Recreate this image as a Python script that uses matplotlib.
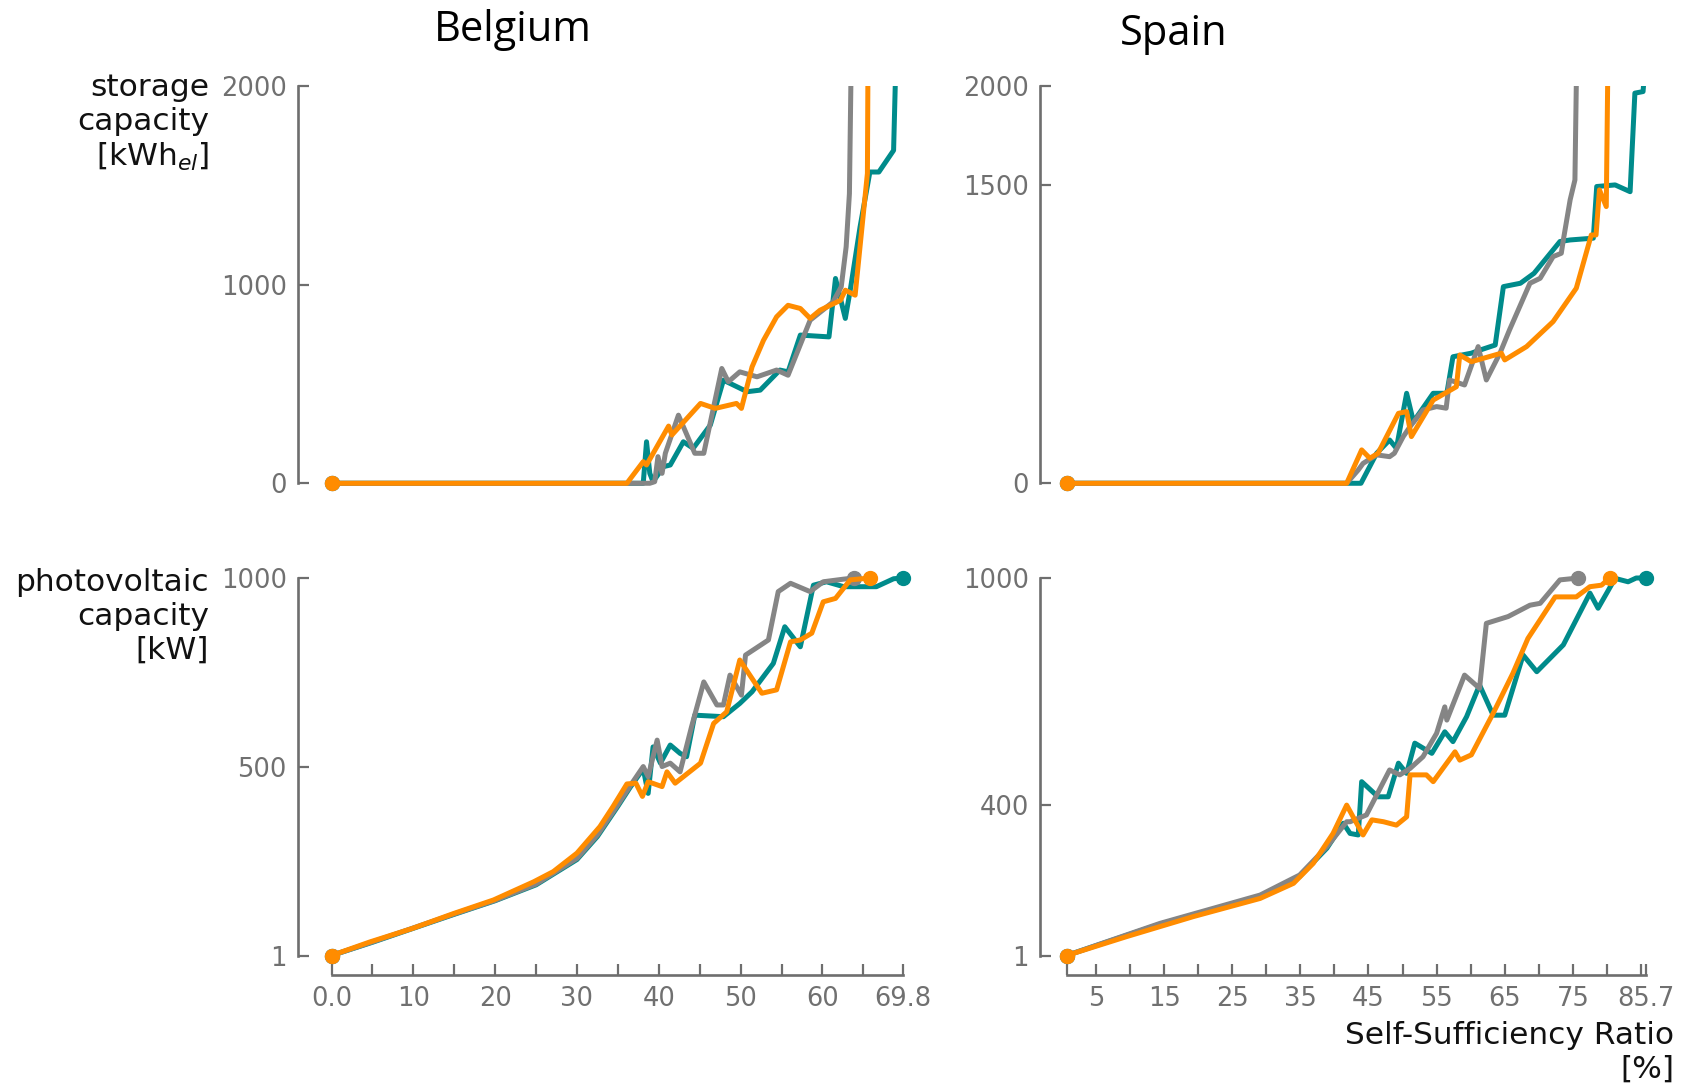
import matplotlib
matplotlib.use("Agg")
import matplotlib.pyplot as plt
from matplotlib.ticker import FixedLocator, FixedFormatter

# ---------------- data: Belgium, storage capacity [kWh_el] ----------------
be_sto_x_teal = [0, 38.1, 38.5, 38.9, 39.3, 40.6, 41.4, 43.0, 44.2, 46.3, 47.9, 48.7, 50.8,
                 52.4, 54.8, 55.8, 57.3, 60.8, 61.6, 62.8, 63.4, 64.6, 65.8, 66.9, 68.7, 69.8]
be_sto_y_teal = [0, 0, 209, 50, 8, 84, 92, 209, 176, 293, 519, 503, 461,
                 469, 570, 561, 746, 737, 1031, 830, 972, 1290, 1567, 1567, 1676, 3450]
be_sto_x_grey = [0, 38.9, 39.5, 39.9, 40.4, 40.8, 42.4, 44.4, 45.5, 47.7, 48.5, 49.9, 52.0,
                 54.4, 55.8, 58.5, 61.3, 62.3, 62.9, 63.3, 63.8]
be_sto_y_grey = [0, 0, 8, 134, 50, 151, 343, 151, 151, 578, 511, 561, 536,
                 570, 544, 821, 913, 989, 1190, 1458, 3000]
be_sto_x_orange = [0, 36.1, 38.1, 38.5, 41.2, 41.6, 45.1, 46.9, 49.5, 50.1, 51.4, 52.8, 54.4,
                   55.8, 57.3, 58.5, 59.7, 62.2, 62.8, 64.0, 65.5, 65.8]
be_sto_y_orange = [0, 0, 109, 92, 288, 243, 402, 377, 402, 377, 586, 720, 838,
                   896, 880, 830, 871, 921, 972, 947, 1560, 4000]

# ---------------- data: Belgium, photovoltaic capacity [kW] ----------------
be_pv_x_teal = [0, 5, 10, 15, 20, 25, 30, 32.5, 35, 36.5, 38.1, 38.7, 39.3, 40.2, 41.4, 42.6,
                43.4, 44.4, 47.9, 49.9, 51.4, 54.0, 55.4, 57.3, 58.9, 60.5, 62.6, 66.6, 68.7, 69.8]
be_pv_y_teal = [1, 36, 73, 110, 146, 188, 255, 316, 396, 446, 495, 430, 553, 510, 558, 536,
                527, 637, 633, 668, 699, 774, 871, 818, 981, 990, 977, 977, 998, 1000]
be_pv_x_grey = [0, 5, 10, 15, 20, 25, 30, 32.5, 35, 36.5, 38.1, 38.7, 39.8, 40.4, 41.4, 42.6,
                44.0, 45.5, 47.1, 47.9, 48.7, 50.1, 50.6, 53.4, 54.6, 56.1, 58.5, 60.1, 62.6, 63.8]
be_pv_y_grey = [1, 37, 74, 111, 147, 190, 258, 320, 400, 450, 501, 474, 571, 501, 510, 487,
                606, 725, 664, 664, 743, 690, 796, 836, 964, 986, 964, 990, 997, 1000]
be_pv_x_orange = [0, 4.7, 9.8, 14.9, 19.8, 24.7, 27.1, 30.0, 32.8, 34.4, 36.1, 37.2, 38.0, 38.7,
                  40.4, 41.0, 42.0, 45.1, 46.7, 48.3, 49.9, 52.6, 54.4, 56.1, 57.3, 58.7, 60.1,
                  61.6, 63.4, 65.8]
be_pv_y_orange = [1, 37, 72, 112, 148, 196, 223, 272, 342, 395, 455, 457, 422, 461,
                  448, 487, 457, 510, 615, 646, 783, 695, 704, 831, 836, 854, 937,
                  946, 995, 1000]

# ---------------- data: Spain, storage capacity [kWh_el] ----------------
es_sto_x_teal = [0.7, 43.3, 43.9, 46.2, 48.1, 49.1, 50.6, 51.6, 54.5, 56.5, 57.4, 60.1, 61.4,
                 63.6, 64.8, 67.3, 69.3, 73.1, 74.6, 78.0, 78.5, 81.2, 83.4, 84.1, 85.3, 85.7]
es_sto_y_teal = [0, 0, 0, 151, 218, 176, 453, 310, 453, 453, 637, 655, 671,
                 696, 990, 1007, 1057, 1217, 1225, 1234, 1494, 1502, 1468, 1964, 1972, 2150]
es_sto_x_grey = [0.7, 41.8, 43.5, 44.2, 46.2, 48.1, 48.8, 50.1, 51.1, 53.0, 55.0, 56.4, 56.9,
                 59.1, 61.1, 62.3, 64.3, 65.7, 68.7, 70.2, 72.1, 73.3, 73.6, 74.6, 75.3, 75.8]
es_sto_y_grey = [0, 0, 67, 100, 143, 134, 151, 235, 285, 369, 386, 378, 520,
                 495, 688, 520, 655, 772, 1007, 1032, 1141, 1158, 1225, 1427, 1527, 2710]
es_sto_x_orange = [0.7, 41.8, 44.0, 45.2, 46.4, 49.4, 50.6, 51.3, 54.5, 57.9, 58.4, 60.1, 64.5,
                   65.0, 68.2, 72.1, 75.5, 77.7, 78.4, 78.9, 79.9, 80.4]
es_sto_y_orange = [0, 0, 168, 126, 151, 352, 361, 235, 419, 486, 646, 612, 655,
                   621, 688, 814, 982, 1250, 1250, 1477, 1393, 2900]

# ---------------- data: Spain, photovoltaic capacity [kW] ----------------
es_pv_x_teal = [0.7, 14.4, 29.1, 34.9, 38.9, 41.3, 42.3, 43.5, 44.0, 46.4, 47.9, 49.4, 50.6,
                51.8, 54.3, 56.2, 57.4, 59.4, 61.3, 63.3, 65.0, 67.7, 69.7, 73.6, 77.5, 78.7,
                81.2, 83.1, 84.3, 85.7]
es_pv_y_teal = [1, 84, 158, 210, 285, 351, 324, 320, 461, 421, 421, 510, 483,
                563, 536, 593, 567, 633, 717, 637, 637, 796, 752, 823, 960, 920,
                999, 990, 1000, 1000]
es_pv_x_grey = [0.7, 14.4, 29.1, 34.9, 38.9, 41.8, 42.3, 44.7, 48.1, 49.6, 51.1, 53.0, 55.0,
                56.2, 56.5, 59.1, 61.3, 62.3, 65.5, 68.7, 70.2, 73.1, 75.8]
es_pv_y_grey = [1, 86, 161, 214, 289, 355, 355, 373, 492, 479, 496, 527, 589,
                659, 624, 743, 708, 880, 898, 928, 933, 995, 1000]
es_pv_x_orange = [0.7, 9.5, 19.3, 29.1, 34.0, 36.9, 39.8, 41.8, 44.2, 45.5, 47.2, 49.1, 50.6,
                  51.1, 53.5, 54.5, 57.7, 58.4, 60.1, 63.3, 66.2, 68.4, 72.4, 75.5, 77.5,
                  79.2, 80.4]
es_pv_y_orange = [1, 51, 104, 152, 192, 245, 324, 399, 320, 360, 355, 346, 368,
                  479, 479, 461, 540, 518, 532, 642, 748, 840, 950, 950, 977,
                  981, 1000]

# ---------------- ticks ----------------
be_xticks_major = [0, 10, 20, 30, 40, 50, 60, 69.8]
be_xticklabels = ["0.0", "10", "20", "30", "40", "50", "60", "69.8"]
be_xticks_minor = [5, 15, 25, 35, 45, 55, 65]
es_xticks_major = [5, 15, 25, 35, 45, 55, 65, 75, 85.7]
es_xticklabels = ["5", "15", "25", "35", "45", "55", "65", "75", "85.7"]
es_xticks_minor = [0.7, 10, 20, 30, 40, 50, 60, 70, 80, 85]
be_sto_yticks = [0, 1000, 2000]
es_sto_yticks = [0, 1500, 2000]
be_pv_yticks = [1, 500, 1000]
es_pv_yticks = [1, 400, 1000]

TEAL = "#008b8b"
GREY = "#858585"
ORANGE = "#ff8c00"
AXCOL = "#6e6e6e"
LABCOL = "#707070"

W, H = 1688, 1085
fig = plt.figure(figsize=(W / 100, H / 100), dpi=100)


def axes_px(left, top, right, bottom):
    return fig.add_axes([left / W, 1 - bottom / H, (right - left) / W, (bottom - top) / H])


def draw(ax, x, y, color, z):
    ax.plot(x, y, color=color, lw=3.6, marker="o", ms=10,
            markevery=[0, len(x) - 1], solid_joinstyle="round",
            solid_capstyle="round", zorder=z)


def style(ax, yticks, ybounds, xlim, ylim):
    for s in ("top", "right"):
        ax.spines[s].set_visible(False)
    for s in ("left", "bottom"):
        ax.spines[s].set_color(AXCOL)
        ax.spines[s].set_linewidth(1.9)
    ax.spines["left"].set_bounds(*ybounds)
    ax.set_xlim(*xlim)
    ax.set_ylim(*ylim)
    ax.yaxis.set_major_locator(FixedLocator(yticks))
    ax.tick_params(which="both", direction="in", length=8, width=1.6, color=AXCOL,
                   labelsize=18.5, labelcolor=LABCOL, pad=8)
    ax.set_facecolor("none")


# axes rectangles (pixel layout)
be_xlim = (-4.1, 70.95)
es_xlim = (-3.21, 87.2)
sto_ylim = (-60, 2000)
pv_ylim = (-50.6, 1039.7)

ax_be_sto = axes_px(298, 86, 912, 495.2)
ax_es_sto = axes_px(1040, 86, 1656, 495.2)
ax_be_pv = axes_px(298, 563, 912, 975)
ax_es_pv = axes_px(1040, 563, 1656, 975)

draw(ax_be_sto, be_sto_x_teal, be_sto_y_teal, TEAL, 2)
draw(ax_be_sto, be_sto_x_grey, be_sto_y_grey, GREY, 3)
draw(ax_be_sto, be_sto_x_orange, be_sto_y_orange, ORANGE, 4)
draw(ax_es_sto, es_sto_x_teal, es_sto_y_teal, TEAL, 2)
draw(ax_es_sto, es_sto_x_grey, es_sto_y_grey, GREY, 3)
draw(ax_es_sto, es_sto_x_orange, es_sto_y_orange, ORANGE, 4)
draw(ax_be_pv, be_pv_x_teal, be_pv_y_teal, TEAL, 2)
draw(ax_be_pv, be_pv_x_grey, be_pv_y_grey, GREY, 3)
draw(ax_be_pv, be_pv_x_orange, be_pv_y_orange, ORANGE, 4)
draw(ax_es_pv, es_pv_x_teal, es_pv_y_teal, TEAL, 2)
draw(ax_es_pv, es_pv_x_grey, es_pv_y_grey, GREY, 3)
draw(ax_es_pv, es_pv_x_orange, es_pv_y_orange, ORANGE, 4)

style(ax_be_sto, be_sto_yticks, (0, 2000), be_xlim, sto_ylim)
style(ax_es_sto, es_sto_yticks, (0, 2000), es_xlim, sto_ylim)
style(ax_be_pv, be_pv_yticks, (1, 1000), be_xlim, pv_ylim)
style(ax_es_pv, es_pv_yticks, (1, 1000), es_xlim, pv_ylim)

for ax in (ax_be_sto, ax_es_sto):
    ax.spines["bottom"].set_visible(False)
    ax.tick_params(axis="x", which="both", bottom=False, labelbottom=False)

ax_be_pv.spines["bottom"].set_bounds(0, 69.8)
ax_be_pv.xaxis.set_major_locator(FixedLocator(be_xticks_major))
ax_be_pv.xaxis.set_major_formatter(FixedFormatter(be_xticklabels))
ax_be_pv.xaxis.set_minor_locator(FixedLocator(be_xticks_minor))

ax_es_pv.spines["bottom"].set_bounds(0.7, 85.7)
ax_es_pv.xaxis.set_major_locator(FixedLocator(es_xticks_major))
ax_es_pv.xaxis.set_major_formatter(FixedFormatter(es_xticklabels))
ax_es_pv.xaxis.set_minor_locator(FixedLocator(es_xticks_minor))

# column titles
fig.text(513 / W, 1 - 41 / H, "Belgium", ha="center", va="baseline",
         fontsize=30, family=["Open Sans", "DejaVu Sans"], color="black")
fig.text(1174 / W, 1 - 45 / H, "Spain", ha="center", va="baseline",
         fontsize=30, family=["Open Sans", "DejaVu Sans"], color="black")

# row labels
fig.text(209 / W, 1 - 73 / H, "storage\ncapacity\n[kWh$_{el}$]", ha="right", va="top",
         multialignment="right", fontsize=22.5, color="#111111")
fig.text(209 / W, 1 - 568 / H, "photovoltaic\ncapacity\n[kW]", ha="right", va="top",
         multialignment="right", fontsize=22.5, color="#111111")

# x-axis label
fig.text(1674 / W, 1 - 1021 / H, "Self-Sufficiency Ratio\n[%]", ha="right", va="top",
         multialignment="right", fontsize=22.5, color="#111111")

fig.savefig("out.png", dpi=100, facecolor="white")
